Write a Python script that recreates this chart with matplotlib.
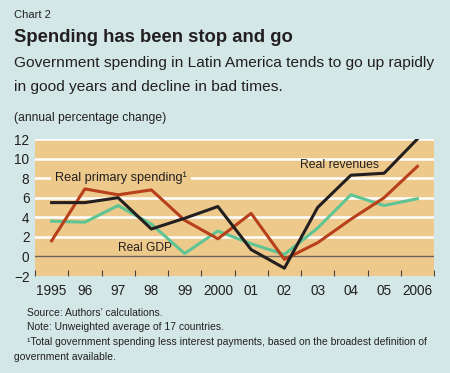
import matplotlib
matplotlib.use("Agg")
import matplotlib.pyplot as plt
import numpy as np

years = ['1995', '96', '97', '98', '99', '2000', '01', '02', '03', '04', '05', '2006']
real_revenues = [5.5, 5.5, 6.0, 2.8, 3.9, 5.1, 0.7, -1.2, 5.0, 8.3, 8.5, 12.0]
real_primary_spending = [1.6, 6.9, 6.3, 6.8, 3.7, 1.8, 4.4, -0.3, 1.4, 3.8, 6.0, 9.2]
real_gdp = [3.6, 3.5, 5.2, 3.3, 0.3, 2.6, 1.3, 0.2, 2.9, 6.3, 5.2, 5.9]
y_ticks = [-2, 0, 2, 4, 6, 8, 10, 12]

BG = '#d3e8e6'
PANEL = '#eec98c'
TXT = '#231f20'
plt.rcParams['font.family'] = ['Liberation Sans', 'DejaVu Sans']

W, H = 450, 373
fig = plt.figure(figsize=(W / 100, H / 100), dpi=100, facecolor=BG)
renderer = fig.canvas.get_renderer()


def fit(t, width_px):
    # scale font so the text spans the width seen in the reference
    w = t.get_window_extent(renderer).width
    t.set_fontsize(t.get_fontsize() * width_px / w)
    return t


# plot area in pixels: x 35..434, y 139..276
ax = fig.add_axes([35 / W, 1 - 276 / H, 399 / W, 137 / H])
ax.set_facecolor(PANEL)
for s in ax.spines.values():
    s.set_visible(False)

x = np.arange(len(years))
for yv in y_ticks[2:]:
    ax.axhline(yv, color='white', lw=1.8, zorder=1)
ax.axhline(0, color='#6b6259', lw=1.0, zorder=1)

ax.plot(x, real_gdp, color='#5ec494', lw=2.2, zorder=3)
ax.plot(x, real_primary_spending, color='#b7401b', lw=2.2, zorder=4)
ax.plot(x, real_revenues, color=TXT, lw=2.2, zorder=5)

ax.set_xlim(-0.5, len(years) - 0.5)
ax.set_ylim(-2, 12)
ax.set_yticks(y_ticks)
ax.set_yticklabels([str(v).replace('-', '\u2212') for v in y_ticks], fontsize=9.8, color=TXT)
ax.tick_params(axis='y', length=0, pad=4)
ax.set_xticks(x)
ax.set_xticklabels(years, fontsize=9.8, color=TXT)
ax.tick_params(axis='x', length=0, pad=6)
ax.set_xticks(np.arange(-0.5, len(years), 1), minor=True)
ax.tick_params(axis='x', which='minor', direction='in', length=4, width=0.8, color='#4a4540')

t = ax.text(0.1, 8.0, 'Real primary spending\u00b9', fontsize=9, color=TXT, va='center', zorder=2,
            bbox=dict(facecolor=PANEL, edgecolor='none', pad=3))
fit(t, 132)
t = ax.text(8.65, 9.3, 'Real revenues', fontsize=9, color=TXT, va='center', ha='center', zorder=2)
fit(t, 79)
t = ax.text(2.0, 0.85, 'Real GDP', fontsize=9, color=TXT, va='center', zorder=2)
fit(t, 54)

fig.text(14 / W, 1 - 15 / H, 'Chart 2', fontsize=8, color=TXT, va='center')
t = fig.text(14 / W, 1 - 37 / H, 'Spending has been stop and go', fontsize=12, fontweight='bold',
             color=TXT, va='center')
fit(t, 278)
t = fig.text(14 / W, 1 - 63 / H, 'Government spending in Latin America tends to go up rapidly',
             fontsize=10, color=TXT, va='center')
fit(t, 420)
fig.text(14 / W, 1 - 87 / H, 'in good years and decline in bad times.', fontsize=t.get_fontsize(),
         color=TXT, va='center')
t = fig.text(14 / W, 1 - 118 / H, '(annual percentage change)', fontsize=8.5, color=TXT, va='center')
fit(t, 152)

t = fig.text(27 / W, 1 - 342 / H,
             '\u00b9Total government spending less interest payments, based on the broadest definition of',
             fontsize=7, color=TXT, va='center')
fit(t, 398)
fs = t.get_fontsize()
fig.text(27 / W, 1 - 313 / H, 'Source: Authors\u2019 calculations.', fontsize=fs, color=TXT, va='center')
fig.text(27 / W, 1 - 327 / H, 'Note: Unweighted average of 17 countries.', fontsize=fs, color=TXT, va='center')
fig.text(14 / W, 1 - 357 / H, 'government available.', fontsize=fs, color=TXT, va='center')

fig.savefig('out.png', dpi=100, facecolor=BG)
